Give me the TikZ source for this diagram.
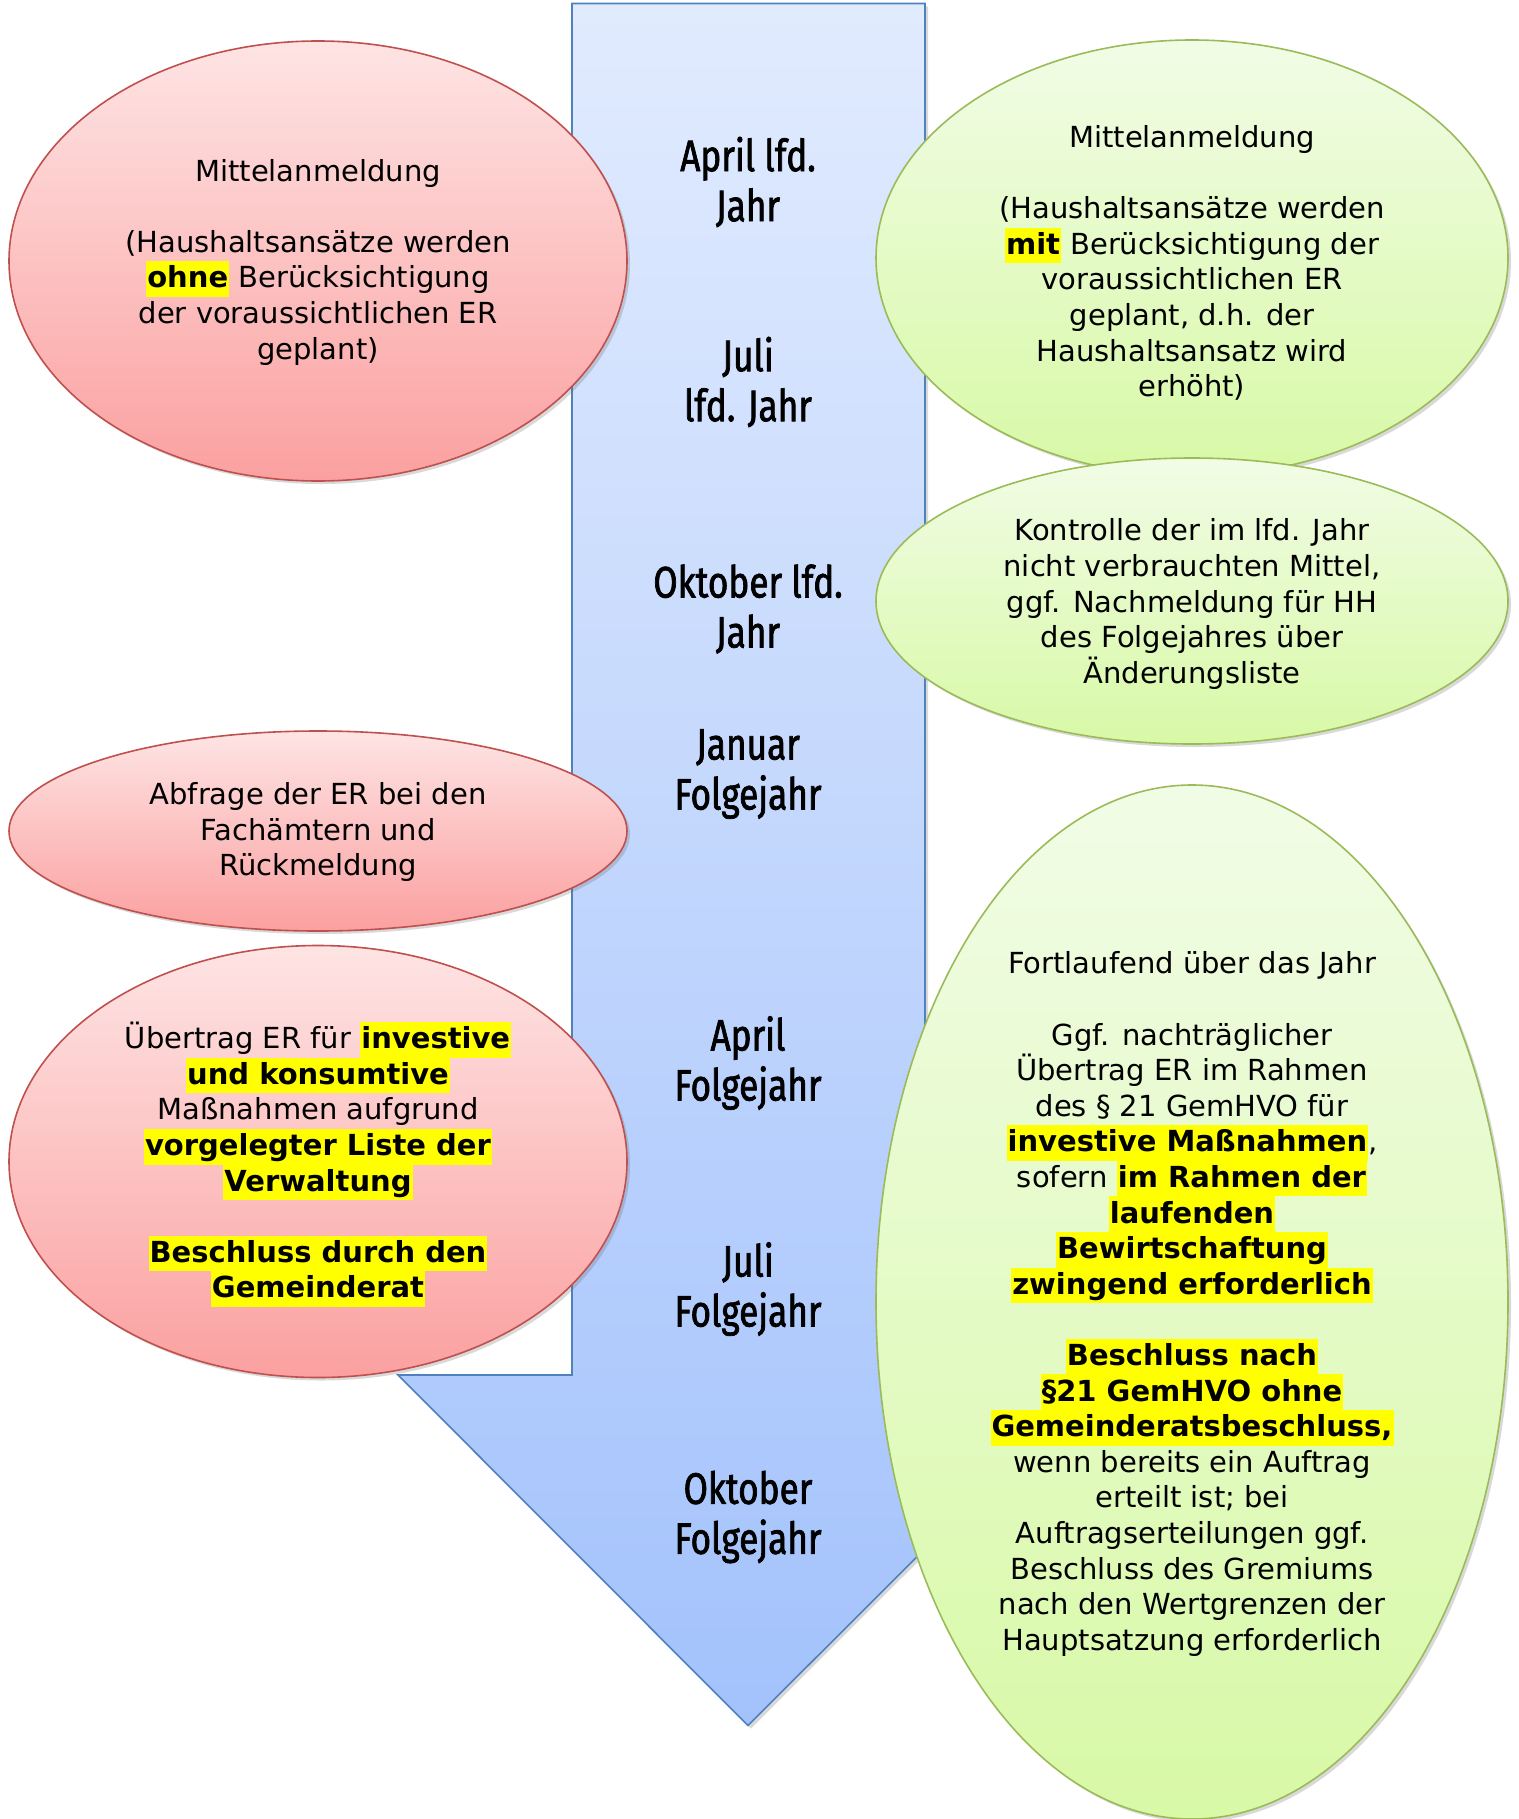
\documentclass[tikz,border=0pt]{standalone}
\usepackage{fontspec}
\setmainfont{DejaVu Sans}
\newfontfamily\timefont[FakeStretch=0.8,FakeBold=1.6]{Fira Sans}
\usetikzlibrary{shapes.geometric,shadows}
\definecolor{arrtop}{RGB}{225,235,254}
\definecolor{arrbot}{RGB}{163,194,252}
\definecolor{arrline}{RGB}{79,129,189}
\definecolor{redtop}{RGB}{254,228,228}
\definecolor{redbot}{RGB}{251,160,160}
\definecolor{redline}{RGB}{192,80,77}
\definecolor{grntop}{RGB}{241,252,230}
\definecolor{grnbot}{RGB}{216,249,166}
\definecolor{grnline}{RGB}{155,187,89}
\definecolor{hly}{RGB}{255,255,0}
\newcommand\hlb[1]{\begingroup\setlength\fboxsep{0.5pt}\colorbox{hly}{\rule[-4pt]{0pt}{16.8pt}\textbf{#1}}\endgroup}
\tikzset{
  shd/.style={drop shadow={shadow xshift=1.5pt,shadow yshift=-1.5pt,opacity=0.25,fill=black!60}},
  redell/.style={ellipse,draw=redline,line width=0.8pt,top color=redtop,bottom color=redbot,inner sep=0pt,outer sep=0pt,shd},
  grnell/.style={ellipse,draw=grnline,line width=0.8pt,top color=grntop,bottom color=grnbot,inner sep=0pt,outer sep=0pt,shd},
  txt/.style={align=center,inner sep=0pt,font=\fontsize{14.5}{17.8}\selectfont},
  timelbl/.style={align=center,inner sep=0pt,font=\timefont\fontsize{22}{25}\selectfont},
  arrowbody/.style={draw=arrline,line width=0.8pt,top color=arrtop,bottom color=arrbot,line join=miter,shd}
}
\begin{document}
\begin{tikzpicture}[x=0.5pt,y=-0.5pt]
\useasboundingbox (0,0) rectangle (1519,1819);
% timeline arrow
\path[arrowbody] (572,3.5) -- (925,3.5) -- (925,1375) -- (1099,1375) -- (748,1725.5) -- (398,1375) -- (572,1375) -- cycle;
% ellipses
\node[redell,minimum width=309pt,minimum height=220pt] (r1) at (318,261) {};
\node[redell,minimum width=309pt,minimum height=100pt] (r2) at (318,831) {};
\node[redell,minimum width=309pt,minimum height=216pt] (r3) at (318,1161.5) {};
\node[grnell,minimum width=316pt,minimum height=218pt] (g1) at (1192,258) {};
\node[grnell,minimum width=316pt,minimum height=143pt] (g2) at (1192,601) {};
\node[grnell,minimum width=316pt,minimum height=517pt] (g3) at (1192,1302) {};
% time labels
\node[timelbl] (m1) at (748,182) {April lfd.\\Jahr};
\node[timelbl] (m2) at (748,382) {Juli\\lfd. Jahr};
\node[timelbl] (m3) at (748,609) {Oktober lfd.\\Jahr};
\node[timelbl] (m4) at (748,774) {Januar\\Folgejahr};
\node[timelbl] (m5) at (748,1063) {April\\Folgejahr};
\node[timelbl] (m6) at (748,1289) {Juli\\Folgejahr};
\node[timelbl] (m7) at (748,1517) {Oktober\\Folgejahr};
% texts
\node[txt] (t1) at (318,262) {Mittelanmeldung\\[17.8pt]
(Haushaltsansätze werden\\
\hlb{ohne} Berücksichtigung\\
der voraussichtlichen ER\\
geplant)};
\node[txt] (t2) at (318,832) {Abfrage der ER bei den\\
Fachämtern und\\
Rückmeldung};
\node[txt] (t3) at (318,1164.5) {Übertrag ER für \hlb{investive}\\
\hlb{und konsumtive}\\
Maßnahmen aufgrund\\
\hlb{vorgelegter Liste der}\\
\hlb{Verwaltung}\\[17.8pt]
\hlb{Beschluss durch den}\\
\hlb{Gemeinderat}};
\node[txt] (t4) at (1192,263) {Mittelanmeldung\\[17.8pt]
(Haushaltsansätze werden\\
\hlb{mit} Berücksichtigung der\\
voraussichtlichen ER\\
geplant, d.h. der\\
Haushaltsansatz wird\\
erhöht)};
\node[txt] (t5) at (1192,604) {Kontrolle der im lfd. Jahr\\
nicht verbrauchten Mittel,\\
ggf. Nachmeldung für HH\\
des Folgejahres über\\
Änderungsliste};
\node[txt] (t6) at (1192,1304) {Fortlaufend über das Jahr\\[17.8pt]
Ggf. nachträglicher\\
Übertrag ER im Rahmen\\
des § 21 GemHVO für\\
\hlb{investive Maßnahmen},\\
sofern \hlb{im Rahmen der}\\
\hlb{laufenden}\\
\hlb{Bewirtschaftung}\\
\hlb{zwingend erforderlich}\\[17.8pt]
\hlb{Beschluss nach}\\
\hlb{§21 GemHVO ohne}\\
\hlb{Gemeinderatsbeschluss,}\\
wenn bereits ein Auftrag\\
erteilt ist; bei\\
Auftragserteilungen ggf.\\
Beschluss des Gremiums\\
nach den Wertgrenzen der\\
Hauptsatzung erforderlich};
\end{tikzpicture}
\end{document}
